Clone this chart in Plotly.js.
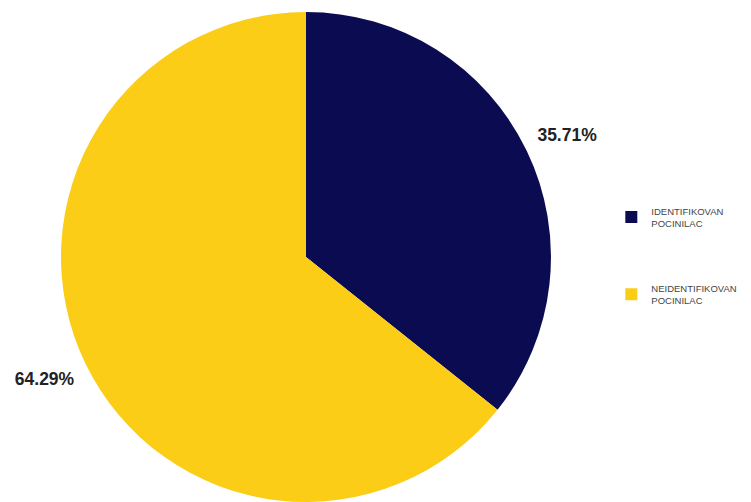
<!DOCTYPE html>
<html>
<head>
<meta charset="utf-8">
<script src="https://cdn.plot.ly/plotly-3.0.1.min.js"></script>
<style>html,body{margin:0;padding:0;background:#fff;}#chart{width:751px;height:502px;}</style>
</head>
<body>
<div id="chart"></div>
<script>
const labels = ["IDENTIFIKOVAN<br>POCINILAC", "NEIDENTIFIKOVAN<br>POCINILAC"];
const values = [5, 9];
const colors = ["#0b0b52", "#fccd16"];

const legendLabels = labels.map(l => " <br> <br>" + l + "<br> <br> ");
const templates = [
  "<b>%{percent:.2%}</b><br> ",
  " <br><b>%{percent:.2%}</b>"
];

Plotly.newPlot("chart", [{
  type: "pie",
  labels: legendLabels,
  values: values,
  sort: false,
  direction: "clockwise",
  rotation: 0,
  marker: {colors: colors, line: {width: 0}},
  textposition: "outside",
  texttemplate: templates,
  textfont: {family: "Liberation Sans, Arial, sans-serif", size: 17.5, color: "#222"},
  hoverinfo: "label+percent",
  domain: {x: [0.0812, 0.7337], y: [0, 0.976]},
  automargin: false
}], {
  width: 751, height: 502,
  margin: {l: 0, r: 0, t: 0, b: 0},
  paper_bgcolor: "#fff",
  showlegend: true,
  legend: {
    x: 0.814, y: 0.49, xanchor: "left", yanchor: "middle",
    font: {family: "Liberation Sans, Arial, sans-serif", size: 9.5, color: "#444"},
    valign: "middle",
    itemwidth: 30
  }
}, {displayModeBar: false});
</script>
</body>
</html>
